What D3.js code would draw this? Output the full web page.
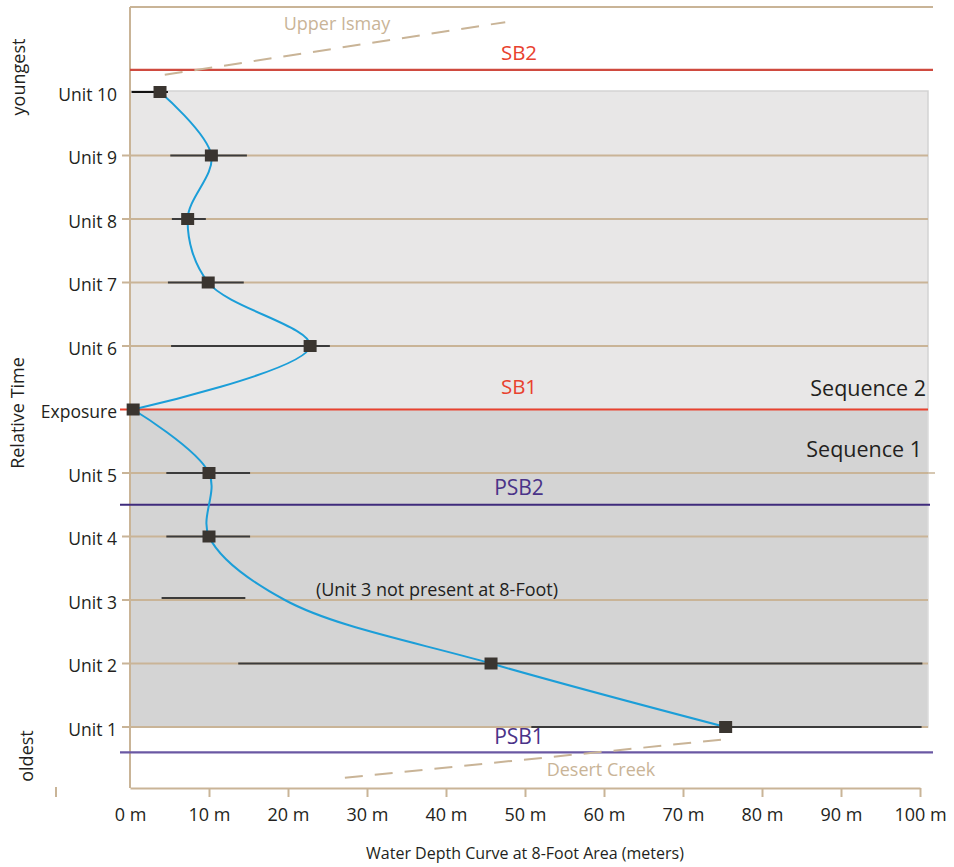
<!DOCTYPE html>
<html>
<head>
<meta charset="utf-8">
<script src="https://cdn.jsdelivr.net/npm/d3@7"></script>
<style>
  html, body { margin: 0; padding: 0; background: #fff; }
  svg { display: block; font-family: "Open Sans", "Noto Sans", sans-serif; }
</style>
</head>
<body>
<svg id="chart" width="954" height="867"></svg>
<script>
// Stratigraphic levels, youngest at top
const levels = ["Unit 10", "Unit 9", "Unit 8", "Unit 7", "Unit 6", "Exposure",
                "Unit 5", "Unit 4", "Unit 3", "Unit 2", "Unit 1"];

// Estimated water depth (m) per level; null where the unit is absent
const depth    = [3.8, 10.3, 7.3, 9.9, 22.8, 0.4, 10.0, 10.0, null, 45.7, 75.4];
// Depth range (error bars) per level
const errLow   = [0.2, 5.1, 5.3, 4.8, 5.2, null, 4.6, 4.6, 4.0, 13.7, 50.8];
const errHigh  = [4.8, 14.8, 9.6, 14.4, 25.3, null, 15.2, 15.2, 14.6, 100.3, 100.2];

// Interpreted water depth curve: [level index, depth]
const curveUpper = [[0, 3.8], [1, 10.3], [2, 7.3], [3, 9.9], [4, 22.8], [5, 0.4]];
const curveLower = [[5, 0.4], [6, 10.0], [7, 10.0], [8, 19.6], [9, 45.7], [10, 75.4]];

// Sequence boundaries (position in level index units)
const boundaryNames  = ["SB2", "SB1", "PSB2", "PSB1"];
const boundaryPos    = [-0.35, 5, 6.5, 10.4];
const boundaryColor  = ["#cf4a3f", "#e8422f", "#3f2b7c", "#6a58a3"];
const boundaryLabelY = [-10, -16, -10, -8];

// Formation tops (dashed)
const formationNames = ["Upper Ismay", "Desert Creek"];
const formationLines = [[[4.4, -0.27], [47.5, -1.1]], [[27.2, 10.8], [74.9, 10.2]]];

const sequenceNames = ["Sequence 2", "Sequence 1"];
const xTicks = [0, 10, 20, 30, 40, 50, 60, 70, 80, 90, 100];

const tan = "#c9b497";
const ink = "#231f20";
const svg = d3.select("#chart");

const x = d3.scaleLinear().domain([0, 100]).range([130, 920]);
const y = d3.scaleLinear().domain([0, 10]).range([92, 727]);

const frameTop = y(-1.34), frameBottom = 788;

// Shaded sequence panels
svg.append("rect").attr("x", x(0)).attr("y", y(0) - 1)
  .attr("width", 928 - x(0)).attr("height", y(5) - y(0) + 1)
  .attr("fill", "#e8e7e7").attr("stroke", "#d3d3d3").attr("stroke-width", 1.5);
svg.append("rect").attr("x", x(0)).attr("y", y(5))
  .attr("width", 928 - x(0)).attr("height", y(10) - y(5))
  .attr("fill", "#d4d4d4").attr("stroke", "#dcdcdc").attr("stroke-width", 1.5);

// Frame: top and left
svg.append("line").attr("x1", x(0)).attr("x2", 933).attr("y1", frameTop).attr("y2", frameTop)
  .attr("stroke", tan).attr("stroke-width", 2);
svg.append("line").attr("x1", x(0)).attr("x2", x(0)).attr("y1", frameTop).attr("y2", frameBottom)
  .attr("stroke", tan).attr("stroke-width", 2);

// Level lines
levels.forEach((name, i) => {
  if (i === 0 || name === "Exposure") return;
  svg.append("line").attr("x1", 122).attr("x2", 928).attr("y1", y(i)).attr("y2", y(i))
    .attr("stroke", tan).attr("stroke-width", 2);
});

// Level labels
svg.append("g").selectAll("text").data(levels).join("text")
  .attr("x", 117).attr("y", (d, i) => y(i)).attr("dy", "0.5em")
  .attr("text-anchor", "end").attr("font-size", 17.5).attr("fill", ink)
  .text(d => d);

// Boundaries
boundaryNames.forEach((name, i) => {
  const yy = y(boundaryPos[i]);
  const x1 = name === "SB2" ? x(0) : 120;
  const x2 = name === "SB1" ? 928 : (name === "PSB2" ? 930 : 933);
  svg.append("line").attr("x1", x1).attr("x2", x2).attr("y1", yy).attr("y2", yy)
    .attr("stroke", boundaryColor[i]).attr("stroke-width", 2.2);
  svg.append("text").attr("x", 519).attr("y", yy + boundaryLabelY[i])
    .attr("text-anchor", "middle").attr("font-size", name.startsWith("PSB") ? 21 : 20.5)
    .attr("fill", name.startsWith("PSB") ? "#4a3388" : "#e8422f")
    .text(name);
});

// Formation tops
formationLines.forEach(seg => {
  svg.append("line")
    .attr("x1", x(seg[0][0])).attr("y1", y(seg[0][1]))
    .attr("x2", x(seg[1][0])).attr("y2", y(seg[1][1]))
    .attr("stroke", tan).attr("stroke-width", 2).attr("stroke-dasharray", "18,12");
});
svg.append("text").attr("x", 337).attr("y", 30).attr("text-anchor", "middle")
  .attr("font-size", 18).attr("fill", tan).text(formationNames[0]);
svg.append("text").attr("x", 601).attr("y", 776).attr("text-anchor", "middle")
  .attr("font-size", 18).attr("fill", tan).text(formationNames[1]);

// Sequence labels
svg.append("text").attr("x", 926).attr("y", 396).attr("text-anchor", "end")
  .attr("font-size", 21.5).attr("fill", ink).text(sequenceNames[0]);
svg.append("text").attr("x", 922).attr("y", 457).attr("text-anchor", "end")
  .attr("font-size", 21.5).attr("fill", ink).text(sequenceNames[1]);

// Note for missing unit
svg.append("text").attr("x", 437).attr("y", 596).attr("text-anchor", "middle")
  .attr("font-size", 18).attr("fill", ink).text("(Unit 3 not present at 8-Foot)");

// Error bars
const errG = svg.append("g");
levels.forEach((name, i) => {
  if (errLow[i] == null) return;
  const yy = y(i) - (name === "Unit 3" ? 2 : 0);
  errG.append("line")
    .attr("x1", x(errLow[i])).attr("x2", x(errHigh[i]))
    .attr("y1", yy).attr("y2", yy)
    .attr("stroke", i === 0 ? "#111" : "#3b3b3b").attr("stroke-width", 2);
});

// Water depth curve
const line = d3.line()
  .x(d => x(d[1])).y(d => y(d[0]))
  .curve(d3.curveCatmullRom.alpha(0.5));
[curveUpper, curveLower].forEach(seg => {
  svg.append("path").attr("d", line(seg))
    .attr("fill", "none").attr("stroke", "#1b9ed8").attr("stroke-width", 2);
});

// Markers
svg.append("g").selectAll("rect")
  .data(levels.map((d, i) => ({ i, v: depth[i] })).filter(d => d.v != null))
  .join("rect")
  .attr("x", d => x(d.v) - 6.5).attr("y", d => y(d.i) - 6)
  .attr("width", 13).attr("height", 12)
  .attr("fill", "#3a3530");

// X axis
const axis = d3.axisBottom(x).tickValues(xTicks).tickFormat(d => d + " m")
  .tickSize(9).tickPadding(11).tickSizeOuter(0);
const ax = svg.append("g").attr("transform", `translate(0,${frameBottom})`).call(axis);
ax.select(".domain").attr("stroke", tan).attr("stroke-width", 2);
ax.selectAll(".tick line").attr("stroke", tan).attr("stroke-width", 2)
  .attr("opacity", d => d === 0 ? 0 : 1);
ax.selectAll(".tick text").attr("font-size", 18).attr("fill", ink)
  .attr("font-family", "'Open Sans', sans-serif");

svg.append("text").attr("x", 525).attr("y", 859).attr("text-anchor", "middle")
  .attr("font-size", 16).attr("fill", ink)
  .text("Water Depth Curve at 8-Foot Area (meters)");

// Stray tick marks
svg.append("line").attr("x1", 56).attr("x2", 56).attr("y1", 787).attr("y2", 797)
  .attr("stroke", tan).attr("stroke-width", 2);
svg.append("line").attr("x1", 928).attr("x2", 935).attr("y1", y(6)).attr("y2", y(6))
  .attr("stroke", tan).attr("stroke-width", 1.5);

// Relative time labels
const vlab = (txt, cx, cy) => svg.append("text")
  .attr("transform", `translate(${cx},${cy}) rotate(-90)`)
  .attr("text-anchor", "middle").attr("font-size", 18).attr("fill", ink).text(txt);
vlab("youngest", 25, 77);
vlab("Relative Time", 24, 413);
vlab("oldest", 33, 756);
</script>
</body>
</html>
